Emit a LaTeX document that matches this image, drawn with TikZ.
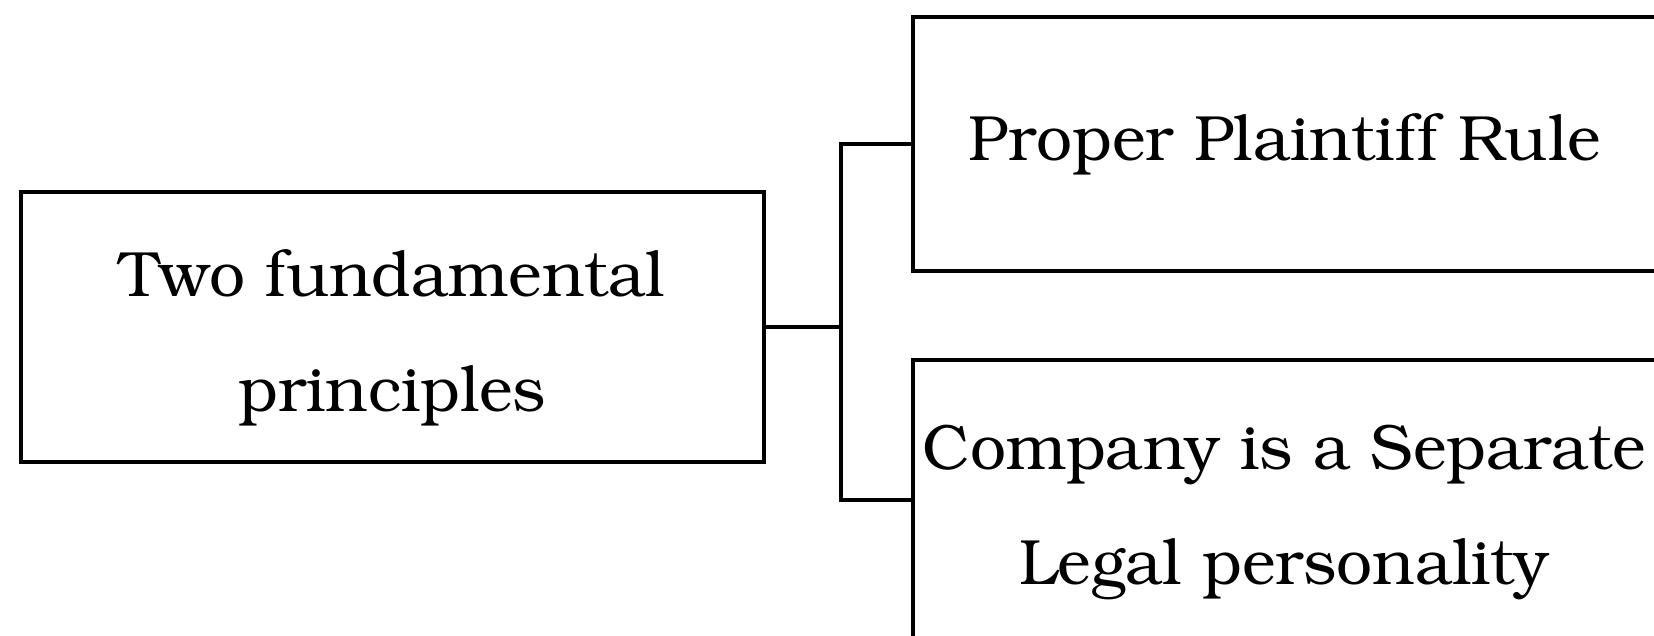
\documentclass[tikz,border=0pt]{standalone}
\usepackage[T1]{fontenc}
\usepackage{bookman}
\usepackage{tikz}
\usetikzlibrary{positioning}

\begin{document}
\begin{tikzpicture}[x=0.5pt, y=-0.5pt,
    box/.style={draw, line width=2pt, minimum width=371.5pt, align=center,
                font=\fontsize{32}{57.5}\selectfont, inner sep=0pt},
    link/.style={line width=2pt}]
    \clip (0,0) rectangle (1654,636);

    \node[box, minimum height=135pt] (root) at (392.5,327) {\rule{0pt}{34pt}Two fundamental\\principles};
    \node[box, minimum height=127pt] (rule) at (1284.5,144) {Proper Plaintiff Rule};
    \node[box, minimum height=153pt] (entity) at (1284.5,513) {Company is a Separate\\Legal personality};

    \draw[link] (root.east) -- ++(75,0) coordinate (fork) |- (rule.west);
    \draw[link] (fork) |- ([yshift=6.5pt]entity.west);
\end{tikzpicture}
\end{document}
